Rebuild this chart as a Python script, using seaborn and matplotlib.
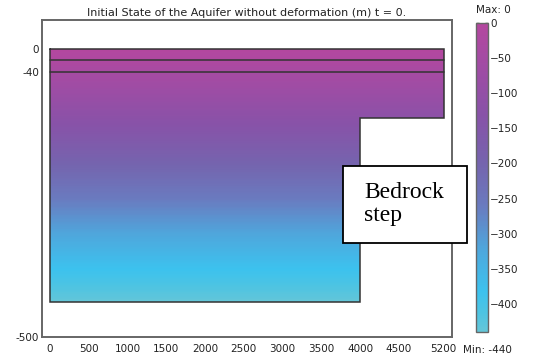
import numpy as np
import pandas as pd
import matplotlib
matplotlib.use("Agg")
import matplotlib.pyplot as plt
import seaborn as sns
from matplotlib.colors import LinearSegmentedColormap, Normalize
from matplotlib.patches import Rectangle

sns.set_theme(style="white")
plt.rcParams['font.family'] = ['DejaVu Sans']

# ---- data ----
x_left = 0
x_step = 4000
x_right = 5080          # right edge of the domain (labelled "5200" in the picture)
top_depth = 0
layer_lines = [-20, -40]
step_bottom = -120
aquifer_bottom = -440

x_ticks = [0, 500, 1000, 1500, 2000, 2500, 3000, 3500, 4000, 4500, 5080]
x_tick_labels = ["0", "500", "1000", "1500", "2000", "2500", "3000", "3500", "4000", "4500", "5200"]
y_ticks = [0, -40, -500]
y_tick_labels = ["0", "-40", "-500"]
cbar_ticks = [0, -50, -100, -150, -200, -250, -300, -350, -400]
cbar_min, cbar_max = -440, 0

title = "Initial State of the Aquifer without deformation (m) t = 0."
box_text = "Bedrock\nstep"

# colormap (value normalised from min to max)
cmap_pos = [0.0, 0.06, 0.13, 0.27, 0.41, 0.545, 0.705, 0.86, 1.0]
cmap_cols = ["#64c6d8", "#4ec4e2", "#3cc2ee", "#4fa6dc", "#6a7abf", "#7564ae",
             "#8852a8", "#a04ca4", "#b4479f"]
cmap = LinearSegmentedColormap.from_list("aq", list(zip(cmap_pos, cmap_cols)))
norm = Normalize(vmin=cbar_min, vmax=cbar_max)

fig = plt.figure(figsize=(5.35, 3.6), dpi=100)
ax = fig.add_axes([42/535, 1-337/360, 410/535, 317/360])
cax = fig.add_axes([476/535, 1-332/360, 12/535, 309/360])

# depth field
x_edges = np.array([x_left, x_step, x_right])
y_edges = np.linspace(aquifer_bottom, top_depth, 221)
y_cent = 0.5*(y_edges[:-1] + y_edges[1:])
Z = np.repeat(y_cent[:, None], 2, axis=1)
mask = np.zeros_like(Z, dtype=bool)
mask[:, 1] = y_cent < step_bottom
Zm = np.ma.array(Z, mask=mask)
mesh = ax.pcolormesh(x_edges, y_edges, Zm, cmap=cmap, norm=norm, shading="flat",
                     edgecolors="none", antialiased=False)

# outline
outline = pd.DataFrame({
    "x": [x_left, x_right, x_right, x_step, x_step, x_left, x_left],
    "y": [top_depth, top_depth, step_bottom, step_bottom, aquifer_bottom, aquifer_bottom, top_depth],
})
ax.plot(outline["x"], outline["y"], color="#333333", lw=1.1, solid_joinstyle="miter")
for yl in layer_lines:
    ax.plot([x_left, x_right], [yl, yl], color="#333333", lw=1.1)

ax.set_xlim(-103, 5187)
ax.set_ylim(-500, 50)
ax.set_xticks(x_ticks)
ax.set_xticklabels(x_tick_labels)
ax.set_yticks(y_ticks)
ax.set_yticklabels(y_tick_labels)
ax.tick_params(axis="both", length=0, labelsize=7.5, colors="#222222")
ax.tick_params(axis="x", pad=5)
ax.tick_params(axis="y", pad=2)
for s in ax.spines.values():
    s.set_color("#666666")
    s.set_linewidth(1.4)
    s.set_visible(True)
ax.set_title(title, fontsize=8, color="#222222", pad=3)

# colorbar
cb = fig.colorbar(mesh, cax=cax, ticks=cbar_ticks)
cb.outline.set_edgecolor("#666666")
cb.outline.set_linewidth(1.0)
cax.tick_params(axis="y", direction="in", length=2.5, width=1.0, color="#333333",
                left=True, right=True, labelsize=7.5, pad=1.5, labelcolor="#222222")
fig.text(476/535, 1-10/360, "Max: 0", fontsize=7.5, ha="left", va="center", color="#222222")
fig.text(463/535, 1-350/360, "Min: -440", fontsize=7.5, ha="left", va="center", color="#222222")

# text box
fig.patches.append(Rectangle((343/535, 1-243/360), 124/535, 77/360, transform=fig.transFigure,
                             facecolor="white", edgecolor="black", lw=1.3, zorder=10))
fig.text(364/535, 1-204/360, box_text, fontsize=17, family="Liberation Serif",
         ha="left", va="center", color="black", linespacing=1.15, zorder=11)

fig.savefig("out.png", dpi=100)
